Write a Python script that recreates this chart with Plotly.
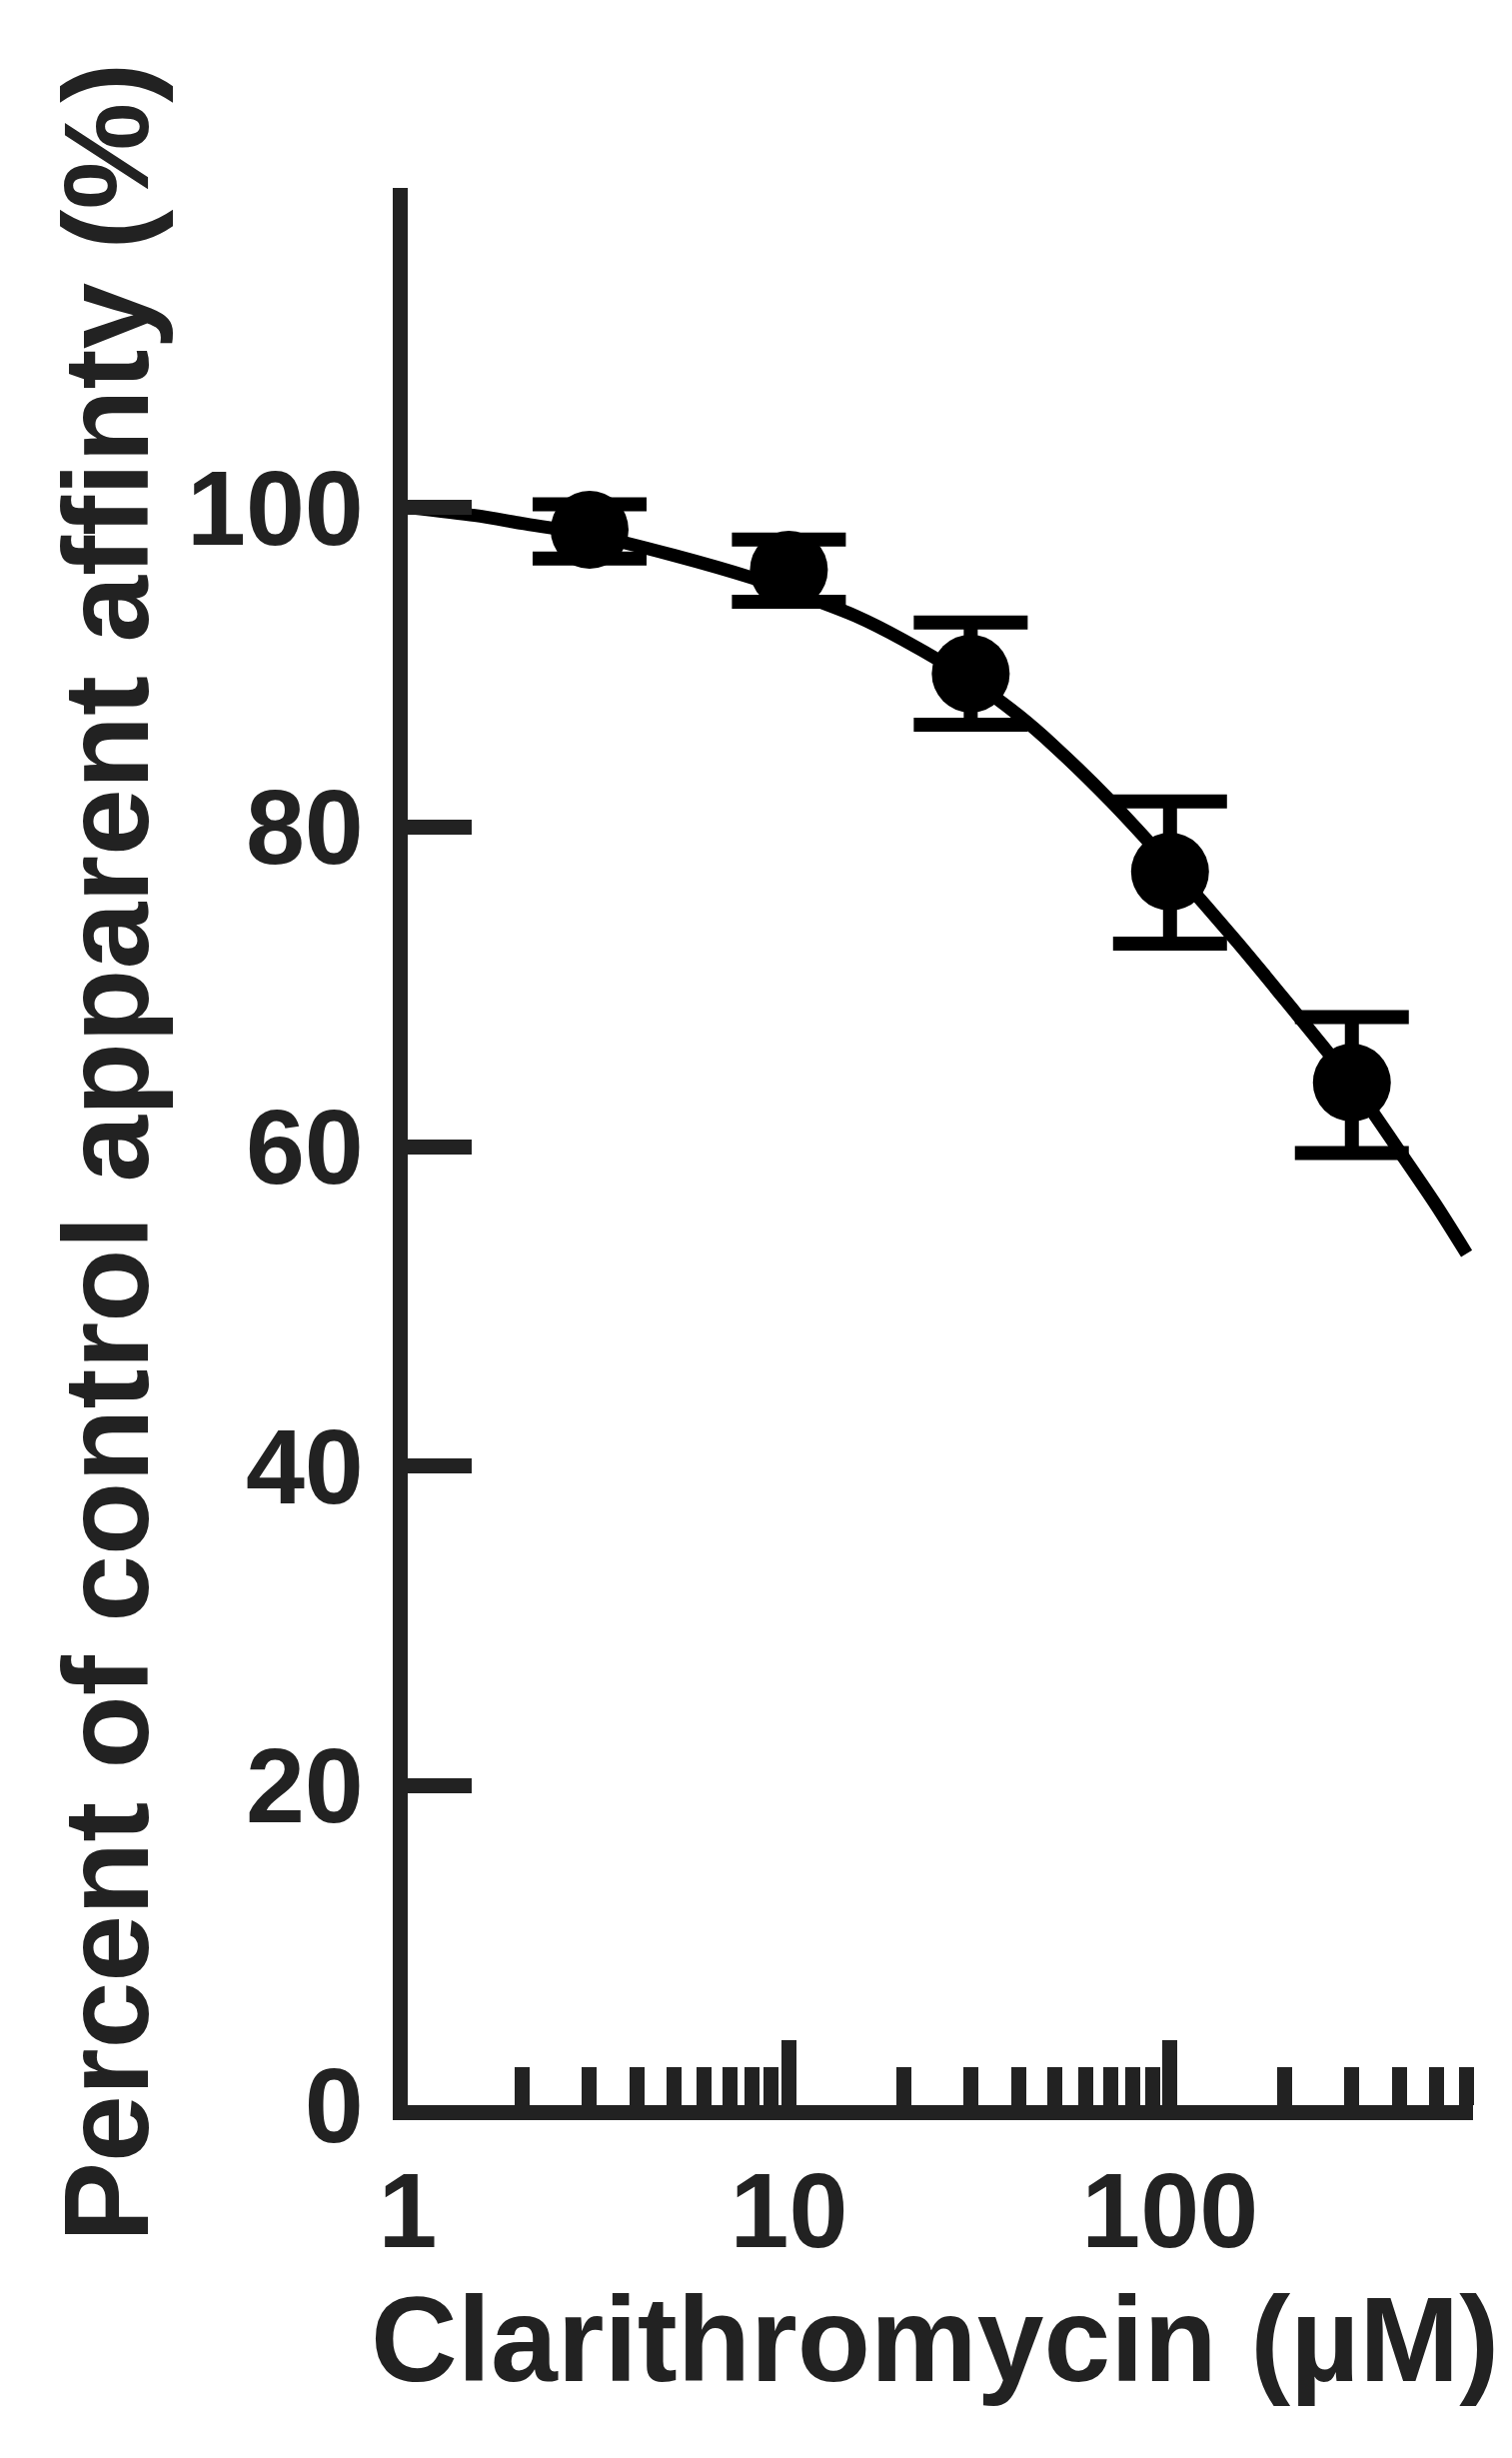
import plotly.graph_objects as go

# --- data ---
conc = [3, 10, 30, 100, 300]  # Clarithromycin (µM)
affinity = [98.6, 96.1, 89.6, 77.2, 64.0]  # % of control apparent affinity
err_upper = [100.2, 98.0, 92.8, 81.6, 68.1]
err_lower = [96.8, 94.1, 86.4, 72.7, 59.6]

# fitted curve
fit_x = [1, 1.5, 2, 3, 5, 8, 10, 15, 20, 30, 40, 50, 70, 100, 150, 200, 300, 400, 500, 600]
fit_y = [100.0, 99.5, 99.0, 98.3, 97.0, 95.6, 94.8, 93.2, 91.7, 89.2, 87.0, 85.0, 81.6, 77.6,
         72.8, 69.2, 64.0, 59.7, 56.3, 53.3]

x_major = [1, 10, 100]
x_minor = [m * 10 ** k for k in range(3) for m in range(2, 10) if m * 10 ** k <= 600]
y_ticks = [0, 20, 40, 60, 80, 100]

ink = "#222222"
font_family = "Liberation Sans, Arial, Helvetica, sans-serif"

fig = go.Figure()

fig.add_trace(go.Scatter(
    x=fit_x, y=fit_y, mode="lines",
    line=dict(color="black", width=13, shape="spline", smoothing=0.8),
    hoverinfo="skip",
))

fig.add_trace(go.Scatter(
    x=conc, y=affinity, mode="markers",
    marker=dict(color="black", size=78),
    error_y=dict(
        type="data", symmetric=False,
        array=[u - v for u, v in zip(err_upper, affinity)],
        arrayminus=[v - l for v, l in zip(affinity, err_lower)],
        color="black", thickness=14, width=57,
    ),
))

fig.update_xaxes(
    type="log", range=[0, 2.795],
    tickmode="array", tickvals=x_major, ticktext=[str(v) for v in x_major],
    ticks="inside", ticklen=65, tickwidth=15, tickcolor=ink,
    minor=dict(tickmode="array", tickvals=x_minor, ticks="inside",
               ticklen=38, tickwidth=15, tickcolor=ink),
    showline=True, linewidth=15, linecolor=ink,
    showgrid=False, zeroline=False,
    tickfont=dict(family=font_family, size=106, color=ink, weight="bold"),
    ticklabelstandoff=0,
)
fig.update_yaxes(
    range=[0, 120],
    tickmode="array", tickvals=y_ticks,
    ticks="inside", ticklen=64, tickwidth=15, tickcolor=ink,
    showline=True, linewidth=15, linecolor=ink,
    showgrid=False, zeroline=False,
    tickfont=dict(family=font_family, size=106, color=ink, weight="bold"),
    ticklabelstandoff=8,
)

fig.add_annotation(
    text="Percent of control apparent affinty (%)",
    xref="paper", yref="paper", x=-0.284, y=0.497,
    xanchor="center", yanchor="middle", textangle=-90, showarrow=False,
    font=dict(family=font_family, size=120, color=ink, weight="bold"),
)
fig.add_annotation(
    text="Clarithromycin (µM)",
    xref="paper", yref="paper", x=0.495, y=-0.122,
    xanchor="center", yanchor="middle", showarrow=False,
    font=dict(family=font_family, size=120, color=ink, weight="bold"),
)

fig.update_layout(
    width=1513, height=2459,
    margin=dict(l=400, r=47, t=180, b=361),
    paper_bgcolor="white", plot_bgcolor="white",
    showlegend=False,
)

fig.write_html("out.html")
